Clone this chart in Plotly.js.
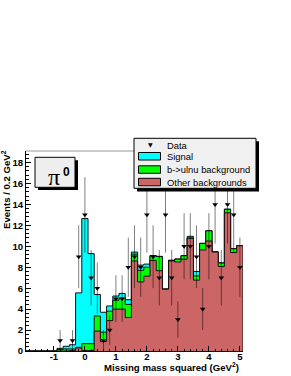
<!DOCTYPE html>
<html><head><meta charset="utf-8">
<script src="https://cdn.plot.ly/plotly-3.0.1.min.js"></script>
<style>html,body{margin:0;padding:0;background:#fff;}#chart{width:291px;height:376px;}</style>
</head><body><div id="chart"></div>
<script>
// ---- data ----
const binCenters = [-1.8,-1.6,-1.4,-1.2,-1.0,-0.8,-0.6,-0.4,-0.2,0.0,0.2,0.4,0.6,0.8,1.0,1.2,1.4,1.6,1.8,2.0,2.2,2.4,2.6,2.8,3.0,3.2,3.4,3.6,3.8,4.0,4.2,4.4,4.6,4.8,5.0];
const binWidth = 0.2;
const otherBkg = [0,0,0,0,0,0,0,0.05,0.3,0.05,0.05,1.9,0.9,2.9,4.0,4.0,3.2,8.6,6.6,7.15,8.65,7.67,5.9,8.6,8.5,8.77,10.75,6.77,9.65,10.5,9.45,8.07,13.2,9.4,10.05];
const bulnuBkg = [0,0,0,0,0,0.15,0.2,0.15,0.05,0.65,0.65,1.45,0.9,0.9,0.85,1.05,1.25,0.65,1.1,0.85,0.45,1.35,0.02,0.05,0.27,0.33,0.05,0.4,0.62,0.98,0.02,0.33,0.33,0.37,0.02];
const signal   = [0,0,0,0,0,0.1,0.25,0.4,5.2,11.95,8.6,2.05,1.9,0.5,0.4,0.45,0.45,0.2,0.5,0.3,0.02,0.02,0,0.02,0.02,0.02,0.15,0.43,0.02,0.02,0,0.02,0.02,0.02,0];
const dataCounts = [0,0,0,0,0,1,0,1,9,13,7,6,1,2,5,5,8,9,8,13,9,7,13,7,3,10,10,9,4,10,14,7,14,13,8];
const xTickVals = [-1,0,1,2,3,4,5];
const xTickText = ['-1','0','1','2','3','4','5'];
const legendLabels = ['Data','Signal','b->ulnu background','Other backgrounds'];
const colSignal = '#00ffff', colBulnu = '#00ff00', colOther = '#cc6666';

// ---- build stacked step outlines ----
function cumulative(...arrs){ return arrs[0].map((_,i)=>arrs.reduce((s,a)=>s+a[i],0)); }
function stepTrace(vals, fill){
  const x=[], y=[];
  binCenters.forEach((c,i)=>{ x.push(c-binWidth/2); y.push(vals[i]); });
  const last = binCenters[binCenters.length-1]+binWidth/2;
  x.push(last); y.push(vals[vals.length-1]);
  x.push(last); y.push(0);
  return {type:'scatter', mode:'lines', x:x, y:y, line:{shape:'hv', color:'#111', width:1},
          fill:'tozeroy', fillcolor:fill, hoverinfo:'skip', showlegend:false};
}
const totAll = cumulative(otherBkg, bulnuBkg, signal);
const totBkg = cumulative(otherBkg, bulnuBkg);
const dx=[], dy=[], de=[];
binCenters.forEach((c,i)=>{ if(dataCounts[i]>0){ dx.push(c); dy.push(dataCounts[i]); de.push(Math.sqrt(dataCounts[i])); } });
const traces = [
  stepTrace(totAll, colSignal),
  stepTrace(totBkg, colBulnu),
  stepTrace(otherBkg, colOther),
  {type:'scatter', mode:'markers', x:dx, y:dy, showlegend:false, hoverinfo:'skip',
   marker:{symbol:'triangle-down', size:5, color:'#000', line:{width:0}},
   error_y:{type:'data', array:de, visible:true, width:0, thickness:1, color:'rgba(0,0,0,0.5)'}}
];

// ---- layout helpers (pixel -> paper) ----
const L=26, R=48, T=151, B=25, W=291, H=376;
const pw=W-L-R, ph=H-T-B;
const px=(x)=>(x-L)/pw, py=(y)=>(H-B-y)/ph;

const tickFont={family:'Liberation Sans, Arial, sans-serif', size:9.6, color:'#000', weight:'bold'};
const shapes=[
  {type:'line', xref:'paper', yref:'paper', x0:0, x1:1, y0:1, y1:1, line:{color:'#999', width:1}},
  // pi0 box shadow + box
  {type:'rect', xref:'paper', yref:'paper', x0:px(38), x1:px(78), y0:py(190), y1:py(160.3), fillcolor:'#000', line:{width:0}},
  {type:'rect', xref:'paper', yref:'paper', x0:px(35), x1:px(75), y0:py(187.3), y1:py(157.3), fillcolor:'#eeeeee', line:{color:'#000', width:1}},
  // legend shadow + box
  {type:'rect', xref:'paper', yref:'paper', x0:px(137), x1:px(259), y0:py(191.5), y1:py(141.3), fillcolor:'#000', line:{width:0}},
  {type:'rect', xref:'paper', yref:'paper', x0:px(134), x1:px(256), y0:py(188.3), y1:py(138.3), fillcolor:'#f0f0f0', line:{color:'#000', width:1}},
  // legend colour boxes
  {type:'rect', xref:'paper', yref:'paper', x0:px(138.5), x1:px(160.5), y0:py(160), y1:py(152.5), fillcolor:colSignal, line:{color:'#000', width:1}},
  {type:'rect', xref:'paper', yref:'paper', x0:px(138.5), x1:px(160.5), y0:py(173.3), y1:py(165.8), fillcolor:colBulnu, line:{color:'#000', width:1}},
  {type:'rect', xref:'paper', yref:'paper', x0:px(138.5), x1:px(160.5), y0:py(185.8), y1:py(178.3), fillcolor:colOther, line:{color:'#000', width:1}}
];
const legFont={family:'Liberation Sans, Arial, sans-serif', size:9.4, color:'#000'};
const legY=[145,156.3,169.5,182];
const annotations=[
  {xref:'paper', yref:'paper', x:px(150), y:py(144), text:'▼', showarrow:false, font:{family:'DejaVu Sans', size:6, color:'#000'}, xanchor:'center', yanchor:'middle'},
  ...legendLabels.map((t,i)=>({xref:'paper', yref:'paper', x:px(165), y:py(legY[i]), text:t, showarrow:false, font:legFont, xanchor:'left', yanchor:'middle'})),
  {xref:'paper', yref:'paper', x:px(53.5), y:py(177), text:'π', showarrow:false, font:{family:'Liberation Serif, serif', size:24, color:'#000'}, xanchor:'center', yanchor:'middle'},
  {xref:'paper', yref:'paper', x:px(66), y:py(172), text:'0', showarrow:false, font:{family:'Liberation Sans, Arial, sans-serif', size:12, color:'#000', weight:'bold'}, xanchor:'center', yanchor:'middle'},
  {xref:'paper', yref:'paper', x:px(6), y:py(190), text:'Events / 0.2 GeV<sup>2</sup>', textangle:-90, showarrow:false, font:tickFont, xanchor:'center', yanchor:'middle'},
  {xref:'paper', yref:'paper', x:px(241), y:py(366.5), text:'Missing mass squared (GeV<sup>2</sup>)', showarrow:false, font:tickFont, xanchor:'right', yanchor:'middle'}
];

const layout={
  width:W, height:H, margin:{l:L, r:R, t:T, b:B}, paper_bgcolor:'#fff', plot_bgcolor:'#fff', showlegend:false,
  xaxis:{range:[-1.9,5.1], showline:true, linecolor:'#000', linewidth:1, ticks:'inside', ticklen:5, tickwidth:1, tickcolor:'#000',
         tickmode:'array', tickvals:xTickVals, ticktext:xTickText, tickfont:tickFont, showgrid:false, zeroline:false, ticklabelstandoff:-4,
         minor:{tickmode:'linear', tick0:0, dtick:0.2, ticks:'inside', ticklen:2.5, tickcolor:'#000', showgrid:false}},
  yaxis:{range:[0,19.1], showline:true, linecolor:'#000', linewidth:1, ticks:'inside', ticklen:5, tickwidth:1, tickcolor:'#000',
         tickmode:'linear', tick0:0, dtick:2, tickfont:tickFont, showgrid:false, zeroline:false,
         minor:{tickmode:'linear', tick0:0, dtick:0.4, ticks:'inside', ticklen:2.5, tickcolor:'#000', showgrid:false}},
  shapes:shapes, annotations:annotations
};
Plotly.newPlot('chart', traces, layout, {staticPlot:true, displayModeBar:false});
</script></body></html>
